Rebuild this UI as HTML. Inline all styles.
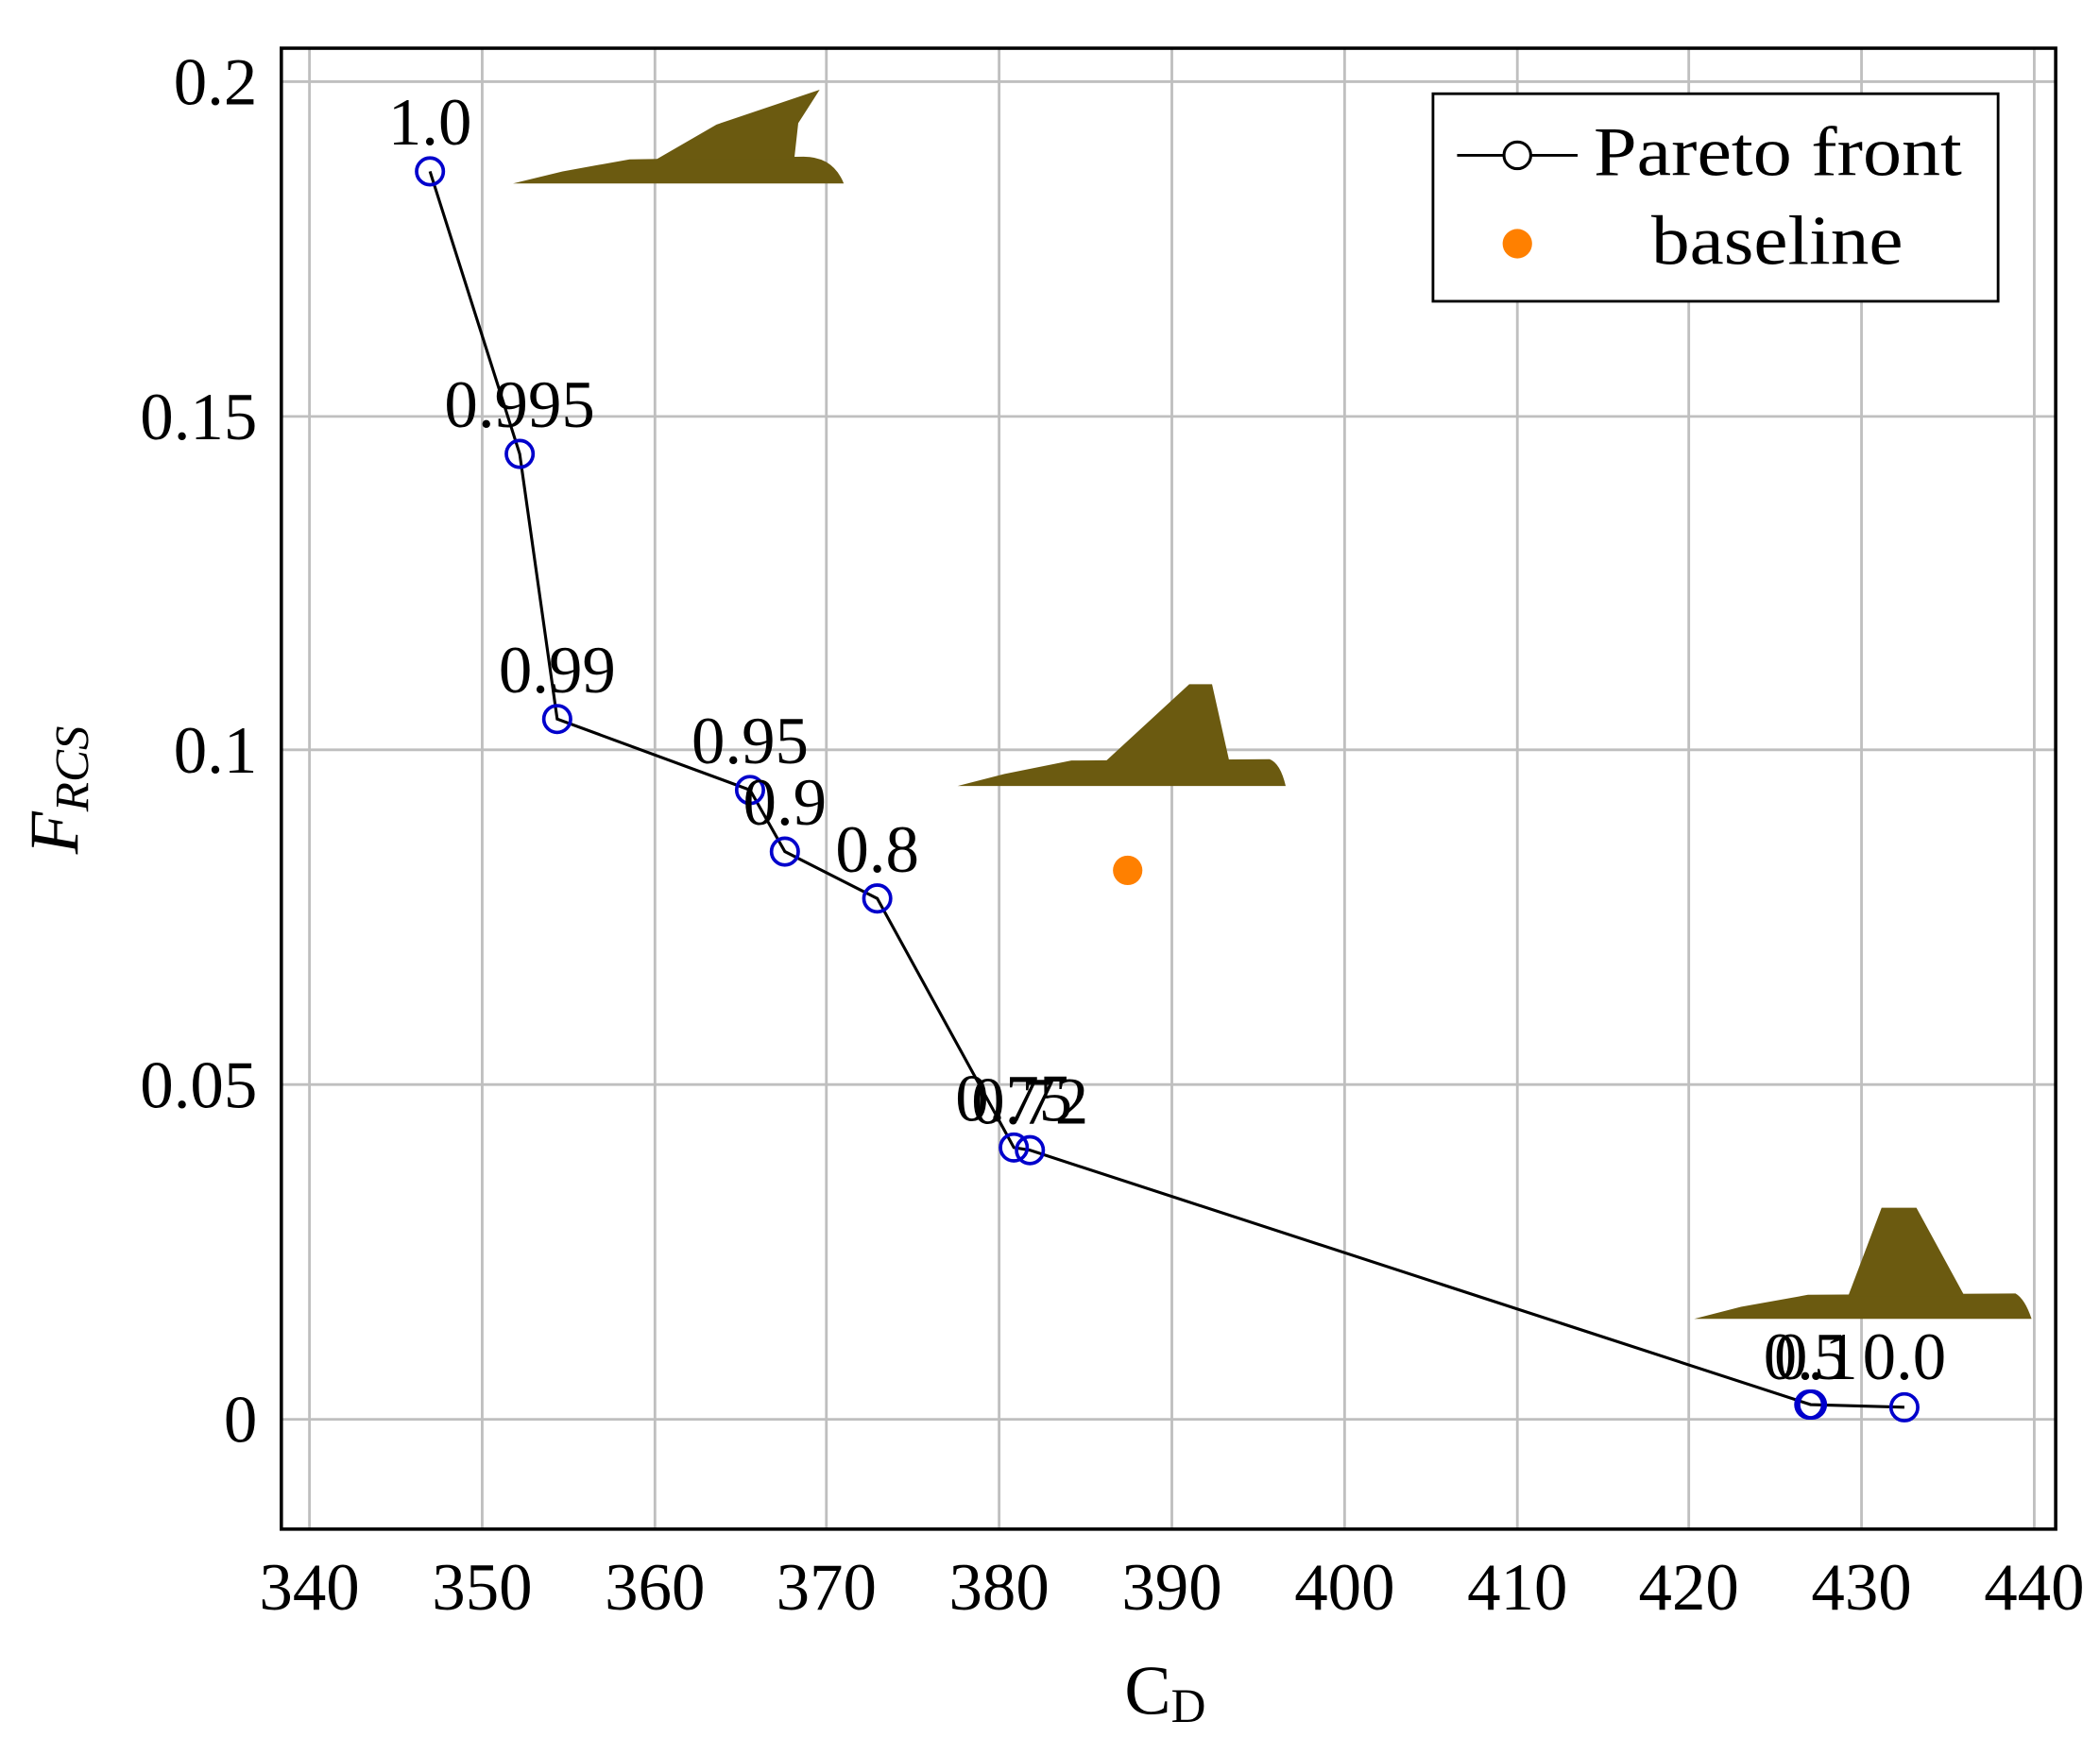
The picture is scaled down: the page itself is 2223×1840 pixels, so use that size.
<!DOCTYPE html>
<html><head><meta charset="utf-8"><style>html,body{margin:0;padding:0;background:#fff}svg{display:block}</style></head>
<body>
<svg width="2223" height="1840" viewBox="0 0 1568 1298" xmlns="http://www.w3.org/2000/svg" font-family="Liberation Serif, serif">
<g stroke="#bfbfbf" stroke-width="2">
<line x1="231" y1="36" x2="231" y2="1142"/><line x1="360" y1="36" x2="360" y2="1142"/><line x1="489" y1="36" x2="489" y2="1142"/><line x1="617" y1="36" x2="617" y2="1142"/><line x1="746" y1="36" x2="746" y2="1142"/><line x1="875" y1="36" x2="875" y2="1142"/><line x1="1004" y1="36" x2="1004" y2="1142"/><line x1="1133" y1="36" x2="1133" y2="1142"/><line x1="1261" y1="36" x2="1261" y2="1142"/><line x1="1390" y1="36" x2="1390" y2="1142"/><line x1="1519" y1="36" x2="1519" y2="1142"/>
<line x1="210" y1="61" x2="1535" y2="61"/><line x1="210" y1="311" x2="1535" y2="311"/><line x1="210" y1="560" x2="1535" y2="560"/><line x1="210" y1="810" x2="1535" y2="810"/><line x1="210" y1="1060" x2="1535" y2="1060"/>
</g>
<rect x="210" y="36" width="1325" height="1106" fill="none" stroke="#000" stroke-width="2.5"/>
<g font-size="50" text-anchor="middle">
<text x="231" y="1202">340</text><text x="360" y="1202">350</text><text x="489" y="1202">360</text><text x="617" y="1202">370</text><text x="746" y="1202">380</text><text x="875" y="1202">390</text><text x="1004" y="1202">400</text><text x="1133" y="1202">410</text><text x="1261" y="1202">420</text><text x="1390" y="1202">430</text><text x="1519" y="1202">440</text>
</g>
<g font-size="50" text-anchor="end">
<text x="192" y="78">0.2</text><text x="192" y="328">0.15</text><text x="192" y="577">0.1</text><text x="192" y="827">0.05</text><text x="192" y="1077">0</text>
</g>
<text x="870" y="1280" font-size="52" text-anchor="middle">C<tspan font-size="36" dy="6">D</tspan></text>
<text transform="translate(58,590) rotate(-90)" font-size="52" text-anchor="middle" font-style="italic">F<tspan font-size="36" dy="8">RCS</tspan></text>
<g fill="#6b5a10">
<path d="M383,137 L420,128 L470,119 L600,117 Q622,117 630,137 Z"/>
<path d="M490,119 L535,93 L612,67 L596,92 L593,119 Z"/>
<path d="M715,587 L750,578 L800,568 L948,567 Q956,570 960,587 Z"/>
<path d="M825,569 L888,511 L905,511 L918,569 Z"/>
<path d="M1265,985 L1300,976 L1350,967 L1505,966 Q1512,970 1517,985 Z"/>
<path d="M1380,968 L1405,902 L1431,902 L1467,968 Z"/>
</g>
<polyline fill="none" stroke="#000" stroke-width="2.2" points="321,128 388,339 416,537 560,590 586,636 655,671 757,857 769,859 1352,1049 1422,1051"/>
<g fill="none" stroke="#0000cc" stroke-width="2.6">
<circle cx="321" cy="128" r="10"/><circle cx="388" cy="339" r="10"/><circle cx="416" cy="537" r="10"/><circle cx="560" cy="590" r="10"/><circle cx="586" cy="636" r="10"/><circle cx="655" cy="671" r="10"/><circle cx="757" cy="857" r="10"/><circle cx="769" cy="859" r="10"/><circle cx="1351" cy="1049" r="10"/><circle cx="1353" cy="1049" r="10"/><circle cx="1422" cy="1051" r="10"/>
</g>
<circle cx="842" cy="650" r="11" fill="#ff8000"/>
<g font-size="50" text-anchor="middle">
<text x="321" y="108">1.0</text><text x="388" y="319">0.995</text><text x="416" y="517">0.99</text><text x="560" y="570">0.95</text><text x="586" y="616">0.9</text><text x="655" y="651">0.8</text><text x="757" y="837">0.75</text><text x="769" y="839">0.72</text><text x="1348" y="1030">0.5</text><text x="1356" y="1030">0.1</text><text x="1422" y="1030">0.0</text>
</g>
<rect x="1070" y="70" width="422" height="155" fill="#fff" stroke="#000" stroke-width="2"/>
<line x1="1088" y1="116" x2="1178" y2="116" stroke="#000" stroke-width="2"/>
<circle cx="1133" cy="116" r="10" fill="#fff" stroke="#000" stroke-width="2.2"/>
<circle cx="1133" cy="182" r="11" fill="#ff8000"/>
<text x="1190" y="131" font-size="52" textLength="275" lengthAdjust="spacingAndGlyphs">Pareto front</text>
<text x="1233" y="197" font-size="52" textLength="188" lengthAdjust="spacingAndGlyphs">baseline</text>
</svg>
</body></html>
